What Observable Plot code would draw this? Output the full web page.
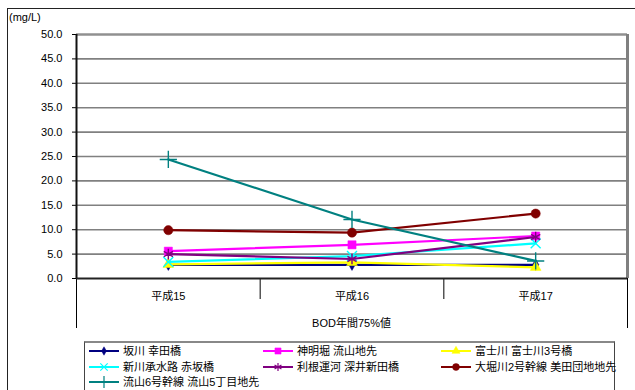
<!DOCTYPE html>
<html>
<head>
<meta charset="utf-8">
<script src="https://cdn.jsdelivr.net/npm/d3@7"></script>
<script src="https://cdn.jsdelivr.net/npm/@observablehq/plot@0.6"></script>
<style>
  html, body { margin: 0; padding: 0; background: #fff; }
  #chart { position: relative; width: 635px; height: 390px; overflow: hidden;
    font-family: "Liberation Sans", "Noto Sans CJK JP", sans-serif; font-size: 11px; color: #000; }
  #chart svg.plot { position: absolute; left: 0; top: 0; }
  .frame { position: absolute; left: 7px; top: 8px; width: 640px; height: 400px;
    border-left: 1px solid #222; border-top: 1px solid #222; box-sizing: border-box; }
  .unit { position: absolute; left: 9px; top: 11px; font-size: 11px; }
  .group { position: absolute; left: 76px; width: 551px; top: 314px; text-align: center;
    font-family: "Liberation Sans", "Noto Sans CJK JP", sans-serif; font-size: 11px; }
  .legend { position: absolute; left: 84px; top: 341px; width: 531px; height: 70px;
    border: 1px solid #444; border-top: 2px solid #888; box-sizing: border-box; }
  .item { position: absolute; display: flex; align-items: center; white-space: nowrap;
    height: 14px; line-height: 14px;
    font-family: "Liberation Sans", "Noto Sans CJK JP", sans-serif; font-size: 11px; }
  .item svg { margin-right: 4px; }
</style>
</head>
<body>
<div id="chart"></div>
<script>
// Survey years (categories on the x axis)
const categories = ["平成15", "平成16", "平成17"];

// Monitoring points
const seriesNames = [
  "坂川 幸田橋",
  "神明堀 流山地先",
  "富士川 富士川3号橋",
  "新川承水路 赤坂橋",
  "利根運河 深井新田橋",
  "大堀川2号幹線 美田団地地先",
  "流山6号幹線 流山5丁目地先"
];
const seriesColors = ["#000080", "#ff00ff", "#ffff00", "#00ffff", "#800080", "#800000", "#008080"];
const seriesSymbols = ["diamond", "square", "triangle", "times", "asterisk", "circle", "plus"];

// BOD 75% values (mg/L), one per year
const sakagawa   = [2.8, 2.8, 2.8];
const shinmeibori = [5.6, 6.9, 8.7];
const fujikawa   = [2.9, 3.3, 2.3];
const shinkawa   = [3.4, 4.6, 7.2];
const toneUnga   = [5.0, 4.0, 8.5];
const oohori     = [9.9, 9.4, 13.3];
const nagareyama = [24.4, 12.1, 3.6];
const seriesValues = [sakagawa, shinmeibori, fujikawa, shinkawa, toneUnga, oohori, nagareyama];

// y axis ticks
const yTicks = [0, 5, 10, 15, 20, 25, 30, 35, 40, 45, 50];

// long-format table
const rows = [];
seriesValues.forEach((vals, s) => {
  vals.forEach((v, i) => rows.push({ series: seriesNames[s], s, cat: categories[i], xi: i + 0.5, value: v }));
});

const symbolSize = { diamond: 3.4, square: 4.6, triangle: 4.0, times: 4.6, asterisk: 5.0, circle: 4.6, plus: 5.6 };
const fillSymbols = new Set(["diamond", "square", "triangle", "circle"]);

const marks = [
  Plot.gridY(yTicks.filter(t => t > 0 && t < 50), { stroke: "#808080", strokeOpacity: 1, strokeWidth: 1.6 }),
  Plot.ruleY([50], { stroke: "#909090", strokeWidth: 2.5 }),
  Plot.ruleX([categories.length], { y1: 0, y2: 50, stroke: "#808080", strokeWidth: 3 }),
  Plot.axisY({ ticks: yTicks, tickFormat: d => d.toFixed(1), tickSize: 4, tickPadding: 10,
    label: null, fontSize: 11 }),
  // category boundaries below the plot
  Plot.axisX({ ticks: [0, categories.length], tickSize: 50, tickFormat: () => "", label: null, stroke: "#000" }),
  Plot.axisX({ ticks: d3.range(1, categories.length), tickSize: 21, tickFormat: () => "", label: null, stroke: "#000" }),
  Plot.axisX({ ticks: categories.map((c, i) => i + 0.5), tickSize: 0, tickPadding: 14,
    tickFormat: d => categories[Math.floor(d)], label: null, fontSize: 11 }),
  Plot.ruleY([0], { stroke: "#222", strokeWidth: 2 }),
  Plot.ruleX([0], { y1: 0, y2: 50, stroke: "#111", strokeWidth: 2 })
];

seriesNames.forEach((name, s) => {
  const data = rows.filter(r => r.s === s);
  const sym = seriesSymbols[s];
  const color = seriesColors[s];
  marks.push(Plot.line(data, { x: "xi", y: "value", stroke: color, strokeWidth: 2.2 }));
  marks.push(Plot.dot(data, {
    x: "xi", y: "value", symbol: () => sym, r: symbolSize[sym],
    fill: fillSymbols.has(sym) ? color : "none",
    stroke: color, strokeWidth: fillSymbols.has(sym) ? 0.5 : 1.4
  }));
});

const plot = Plot.plot({
  width: 635,
  height: 390,
  marginLeft: 76,
  marginRight: 8,
  marginTop: 34,
  marginBottom: 112,
  style: { fontFamily: "'Liberation Sans', 'Noto Sans CJK JP', sans-serif", fontSize: "11px",
    background: "transparent", color: "#000", overflow: "visible" },
  x: { type: "linear", domain: [0, categories.length] },
  y: { domain: [0, 50] },
  symbol: { type: "identity" },
  marks
});
plot.classList.add("plot");

const chart = document.getElementById("chart");
chart.appendChild(plot);

const frame = document.createElement("div");
frame.className = "frame";
chart.appendChild(frame);

const unit = document.createElement("div");
unit.className = "unit";
unit.textContent = "(mg/L)";
chart.appendChild(unit);

const group = document.createElement("div");
group.className = "group";
group.textContent = "BOD年間75%値";
chart.appendChild(group);

// legend
const legend = document.createElement("div");
legend.className = "legend";
chart.appendChild(legend);
const colX = [4, 178, 356];
const rowY = [1, 17, 32];
const symbolTypes = {
  diamond: d3.symbolDiamond, square: d3.symbolSquare, triangle: d3.symbolTriangle,
  times: d3.symbolTimes, asterisk: d3.symbolAsterisk, circle: d3.symbolCircle, plus: d3.symbolPlus
};
seriesNames.forEach((name, s) => {
  const sym = seriesSymbols[s];
  const color = seriesColors[s];
  const item = document.createElement("div");
  item.className = "item";
  item.style.left = colX[s % 3] + "px";
  item.style.top = rowY[Math.floor(s / 3)] + "px";
  const svg = d3.create("svg").attr("width", 30).attr("height", 12);
  svg.append("line").attr("x1", 0).attr("x2", 30).attr("y1", 6).attr("y2", 6)
    .attr("stroke", color).attr("stroke-width", 2);
  const r = symbolSize[sym] * 0.75;
  svg.append("path")
    .attr("transform", "translate(15,6)")
    .attr("d", d3.symbol(symbolTypes[sym], Math.PI * r * r)())
    .attr("fill", fillSymbols.has(sym) ? color : "none")
    .attr("stroke", color).attr("stroke-width", fillSymbols.has(sym) ? 0.5 : 1.2);
  item.appendChild(svg.node());
  const label = document.createElement("span");
  label.textContent = name;
  item.appendChild(label);
  legend.appendChild(item);
});
</script>
</body>
</html>
